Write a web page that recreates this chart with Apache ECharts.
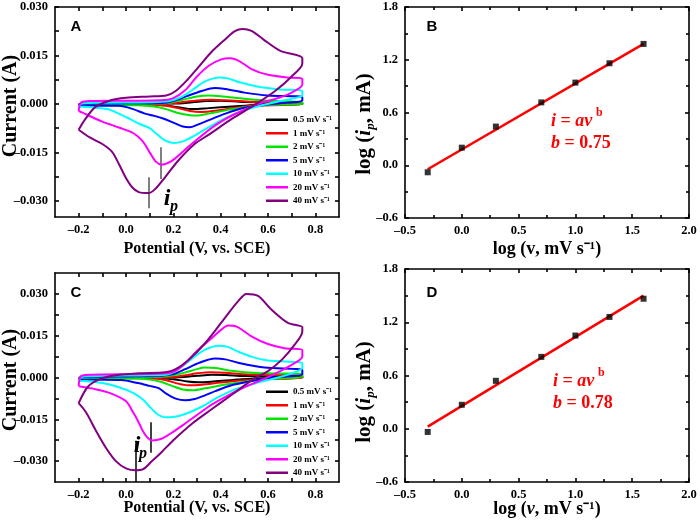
<!DOCTYPE html>
<html><head><meta charset="utf-8">
<script src="https://cdn.jsdelivr.net/npm/echarts@6/dist/echarts.min.js"></script>
<style>html,body{margin:0;padding:0;background:#fff}#c{width:700px;height:520px}</style>
</head><body><div id="c"></div>
<script>
// ---------------- data ----------------
const rateLabels = ['0.5 mV s\u207B\u00B9','1 mV s\u207B\u00B9','2 mV s\u207B\u00B9','5 mV s\u207B\u00B9','10 mV s\u207B\u00B9','20 mV s\u207B\u00B9','40 mV s\u207B\u00B9'];

// CV loops, panel A: [potential V, current mA] (forward then reverse scan)
const cvA_05 = [[-0.2,-0.1],[-0.19,0.0],[0.2,0.1],[0.28,0.5],[0.34,0.9],[0.4,1.0],[0.48,0.7],[0.6,0.3],[0.745,0.2],
  [0.745,-0.1],[0.55,-0.3],[0.45,-0.8],[0.35,-1.3],[0.28,-1.6],[0.22,-1.0],[0.15,-0.3],[0.05,-0.1],[-0.2,-0.1]];
const cvA_1 = [[-0.2,-0.2],[-0.19,0.0],[0.15,0.1],[0.22,0.4],[0.28,0.9],[0.36,1.3],[0.42,1.1],[0.52,0.7],[0.745,0.3],
  [0.745,-0.1],[0.55,-0.5],[0.45,-1.3],[0.38,-2.1],[0.32,-2.5],[0.27,-2.2],[0.22,-1.3],[0.16,-0.5],[0.08,-0.2],[-0.2,-0.2]];
const cvA_2 = [[-0.2,-0.3],[-0.19,0.05],[0.1,0.1],[0.18,0.3],[0.24,1.3],[0.3,2.3],[0.35,2.6],[0.4,2.4],[0.5,1.6],[0.6,1.0],[0.745,0.6],
  [0.745,0.0],[0.6,-0.3],[0.5,-1.0],[0.42,-2.0],[0.35,-3.0],[0.3,-3.6],[0.27,-3.5],[0.22,-2.8],[0.17,-1.6],[0.12,-0.8],[0.05,-0.4],[-0.2,-0.3]];
const cvA_5 = [[-0.2,-0.5],[-0.19,0.1],[0.0,0.2],[0.15,0.3],[0.2,0.9],[0.26,2.5],[0.32,4.0],[0.375,4.9],[0.42,4.6],[0.5,3.5],[0.6,2.6],[0.745,2.1],
  [0.745,1.0],[0.68,0.4],[0.6,-0.2],[0.5,-1.2],[0.42,-3.0],[0.35,-5.0],[0.3,-6.5],[0.27,-7.2],[0.24,-7.0],[0.2,-5.8],[0.16,-4.6],[0.12,-3.7],[0.08,-3.0],[0.03,-1.6],[-0.03,-0.6],[-0.2,-0.5]];
const cvA_10 = [[-0.2,-0.8],[-0.185,0.2],[-0.1,0.4],[0.1,0.5],[0.18,0.8],[0.23,2.0],[0.28,4.3],[0.33,6.8],[0.37,7.9],[0.395,8.2],[0.43,7.9],[0.48,6.7],[0.56,5.3],[0.65,4.5],[0.745,4.1],
  [0.745,2.6],[0.7,1.6],[0.63,0.5],[0.556,-0.8],[0.48,-2.5],[0.41,-4.8],[0.35,-7.2],[0.29,-9.8],[0.24,-11.6],[0.2,-12.1],[0.165,-11.3],[0.13,-9.3],[0.1,-7.5],[0.06,-6.3],[0.02,-4.8],[-0.03,-3.0],[-0.08,-1.6],[-0.15,-1.0],[-0.2,-0.8]];
const cvA_20 = [[-0.2,-2.2],[-0.19,0.4],[-0.15,0.9],[0.0,1.0],[0.15,1.1],[0.2,1.8],[0.25,4.2],[0.3,8.5],[0.35,11.8],[0.4,13.7],[0.44,14.1],[0.48,13.2],[0.53,10.8],[0.6,9.0],[0.68,8.2],[0.745,7.8],
  [0.745,6.0],[0.7,3.5],[0.65,2.0],[0.56,0.0],[0.45,-3.5],[0.38,-6.5],[0.3,-11.0],[0.24,-14.8],[0.19,-17.8],[0.15,-18.8],[0.125,-17.8],[0.1,-15.0],[0.07,-11.5],[0.03,-9.0],[-0.03,-7.3],[-0.1,-5.5],[-0.16,-3.5],[-0.2,-2.2]];
const cvA_40 = [[-0.2,-8.0],[-0.175,-5.0],[-0.13,-1.0],[-0.07,1.0],[0.0,1.9],[0.1,2.3],[0.17,2.6],[0.21,4.0],[0.26,7.5],[0.305,11.3],[0.36,16.0],[0.416,19.8],[0.46,22.5],[0.493,23.2],[0.53,22.6],[0.58,20.0],[0.65,16.5],[0.745,14.2],
  [0.745,12.5],[0.7,8.5],[0.63,4.0],[0.55,0.0],[0.45,-4.5],[0.35,-9.5],[0.29,-12.4],[0.221,-17.5],[0.165,-22.7],[0.124,-26.3],[0.096,-27.6],[0.054,-27.3],[0.026,-25.8],[-0.002,-22.7],[-0.03,-18.6],[-0.058,-14.9],[-0.1,-12.4],[-0.155,-10.3],[-0.2,-8.0]];

// CV loops, panel C
const cvC_05 = [[-0.2,-0.1],[-0.19,0.0],[0.22,0.1],[0.3,0.6],[0.362,1.0],[0.42,0.9],[0.5,0.5],[0.745,0.3],
  [0.745,-0.1],[0.55,-0.4],[0.45,-0.9],[0.36,-1.5],[0.306,-1.7],[0.26,-1.4],[0.2,-0.6],[0.12,-0.2],[-0.2,-0.1]];
const cvC_1 = [[-0.2,-0.2],[-0.19,0.0],[0.2,0.2],[0.26,0.9],[0.3,1.5],[0.36,1.9],[0.42,1.7],[0.5,1.2],[0.745,0.6],
  [0.745,-0.1],[0.6,-0.6],[0.5,-1.0],[0.4,-1.8],[0.32,-2.6],[0.26,-2.8],[0.22,-2.2],[0.17,-1.0],[0.1,-0.3],[-0.2,-0.2]];
const cvC_2 = [[-0.2,-0.4],[-0.19,0.1],[0.15,0.3],[0.2,0.8],[0.25,1.8],[0.3,3.0],[0.33,3.6],[0.38,3.4],[0.446,2.4],[0.55,1.6],[0.745,1.2],
  [0.745,0.2],[0.6,-0.5],[0.5,-1.5],[0.42,-2.5],[0.34,-3.8],[0.28,-4.6],[0.24,-4.3],[0.2,-3.2],[0.15,-1.6],[0.1,-0.7],[0.0,-0.3],[-0.2,-0.4]];
const cvC_5 = [[-0.2,-0.7],[-0.185,0.2],[0.0,0.4],[0.15,0.6],[0.2,1.2],[0.25,3.0],[0.31,5.3],[0.376,6.8],[0.42,6.5],[0.474,5.3],[0.586,3.6],[0.745,2.7],
  [0.745,1.2],[0.65,0.2],[0.586,-0.4],[0.5,-1.8],[0.446,-2.8],[0.38,-4.8],[0.334,-6.4],[0.29,-7.7],[0.25,-8.2],[0.21,-7.6],[0.17,-5.8],[0.138,-3.8],[0.1,-3.0],[0.05,-2.0],[-0.02,-0.9],[-0.2,-0.7]];
const cvC_10 = [[-0.2,-1.2],[-0.185,0.3],[-0.1,0.6],[0.1,0.8],[0.18,1.2],[0.236,3.9],[0.28,6.8],[0.33,9.8],[0.39,11.4],[0.43,11.0],[0.474,9.3],[0.53,7.5],[0.6,6.1],[0.745,5.1],
  [0.745,3.5],[0.7,1.5],[0.62,-0.5],[0.55,-2.0],[0.45,-4.6],[0.38,-7.5],[0.32,-10.5],[0.25,-13.1],[0.2,-14.2],[0.166,-14.3],[0.13,-13.0],[0.1,-10.5],[0.07,-7.8],[0.03,-5.5],[-0.03,-3.5],[-0.1,-2.0],[-0.2,-1.2]];
const cvC_20 = [[-0.2,-3.1],[-0.19,0.5],[-0.15,1.0],[0.05,1.2],[0.17,1.5],[0.21,2.5],[0.25,5.1],[0.3,9.5],[0.362,14.1],[0.4,17.0],[0.432,18.7],[0.47,18.2],[0.53,14.8],[0.6,12.0],[0.67,10.5],[0.745,9.9],
  [0.745,7.5],[0.7,4.5],[0.65,2.2],[0.586,-0.4],[0.5,-3.5],[0.43,-6.5],[0.36,-9.8],[0.306,-13.1],[0.25,-16.5],[0.19,-20.0],[0.15,-22.0],[0.11,-22.6],[0.09,-21.5],[0.07,-19.0],[0.05,-15.5],[0.03,-12.5],[0.0,-8.5],[-0.07,-5.5],[-0.14,-4.0],[-0.2,-3.1]];
const cvC_40 = [[-0.2,-9.2],[-0.162,-3.4],[-0.113,-0.7],[-0.043,0.8],[0.055,1.5],[0.166,1.9],[0.208,2.9],[0.264,6.3],[0.334,12.3],[0.418,21.4],[0.474,27.4],[0.509,30.0],[0.558,29.3],[0.614,24.4],[0.684,19.6],[0.745,18.1],
  [0.745,16.5],[0.71,11.5],[0.66,6.5],[0.6,2.3],[0.54,-0.5],[0.45,-6.0],[0.36,-11.5],[0.28,-16.5],[0.2,-22.5],[0.15,-26.8],[0.11,-30.0],[0.07,-33.0],[0.041,-33.3],[0.0,-32.6],[-0.043,-30.0],[-0.085,-25.2],[-0.127,-19.1],[-0.169,-12.5],[-0.2,-9.2]];

// i_p marker segments: [potential V, current top mA, current bottom mA]
const ipMarksA = [[0.096,-22.7,-32.3],[0.147,-13.4,-23.2]];
const ipMarksC = [[0.041,-22.7,-37.5],[0.106,-16.1,-27.0]];

// log-log panels
const logV = [-0.30, 0.00, 0.30, 0.70, 1.00, 1.30, 1.60];
const logIpB = [-0.08, 0.20, 0.44, 0.715, 0.94, 1.16, 1.38];
const logIpD = [-0.036, 0.27, 0.54, 0.81, 1.05, 1.26, 1.465];
const fitB = [[-0.30, -0.045], [1.60, 1.38]];
const fitD = [[-0.30, 0.024], [1.60, 1.50]];

// axis ticks
const cvXLabels = [-0.2, 0, 0.2, 0.4, 0.6, 0.8];
const cvXTicks = [-0.2,-0.1,0,0.1,0.2,0.3,0.4,0.5,0.6,0.7,0.8];
const cvYLabels = [-0.030, -0.015, 0, 0.015, 0.030];
const cvYTicks = [-0.030,-0.0225,-0.015,-0.0075,0,0.0075,0.015,0.0225,0.030];

// ---------------- styling / building ----------------
const rateColors = ['#000000','#ff0000','#00e600','#0000ff','#00ffff','#ff00ff','#800080'];
const SERIF = "'Liberation Serif','Times New Roman',serif";
const lineBlack = {color:'#000', width:1.6};
const neg = (v, d) => (v < 0 ? '\u2013' : '') + Math.abs(v).toFixed(d);
const tickLabel = {color:'#000', fontFamily:SERIF, fontWeight:'bold', fontSize:12.5};

function makeAxes(g, o) {
  const xs = [], ys = [];
  const xb = {gridIndex:g, type:'value', min:o.xmin, max:o.xmax, position:'bottom',
    axisLine:{show:true, onZero:false, lineStyle:lineBlack},
    axisTick:{show:true, inside:true, length:4, lineStyle:lineBlack},
    axisLabel:Object.assign({margin:6, formatter:v=>neg(v,o.xd)}, tickLabel),
    splitLine:{show:false},
    name:o.xname, nameLocation:'middle', nameGap:o.xgap, nameMoveOverlap:false,
    nameTextStyle:o.xnameStyle};
  const yb = {gridIndex:g, type:'value', min:o.ymin, max:o.ymax, position:'left',
    axisLine:{show:true, onZero:false, lineStyle:lineBlack},
    axisTick:{show:true, inside:true, length:4, lineStyle:lineBlack},
    axisLabel:Object.assign({margin:7, formatter:v=>neg(v,o.yd)}, tickLabel),
    splitLine:{show:false}};
  if (o.xint) { xb.interval = o.xint; xb.minorTick = {show:true, splitNumber:2, length:3, lineStyle:lineBlack}; }
  else { xb.axisTick.customValues = o.xticks; xb.axisLabel.customValues = o.xlabels; }
  if (o.yint) { yb.interval = o.yint; yb.minorTick = {show:true, splitNumber:2, length:3, lineStyle:lineBlack}; }
  else { yb.axisTick.customValues = o.yticks; yb.axisLabel.customValues = o.ylabels; }
  const xt = JSON.parse(JSON.stringify(Object.assign({}, xb, {axisLabel:{show:false}, name:'', nameTextStyle:{}})));
  xt.position = 'top'; xt.gridIndex = g;
  const yr = JSON.parse(JSON.stringify(Object.assign({}, yb, {axisLabel:{show:false}})));
  yr.position = 'right'; yr.gridIndex = g;
  xs.push(xb, xt); ys.push(yb, yr);
  return {xs, ys};
}

const titleStyle = sz => ({color:'#000', fontFamily:SERIF, fontWeight:'bold', fontSize:sz});
const logXName = (italicV) => ({
  rich:{
    n:{fontFamily:SERIF, fontWeight:'bold', fontSize:18, color:'#000', lineHeight:22},
    v:{fontFamily:SERIF, fontWeight:'bold', fontStyle: italicV ? 'italic':'normal', fontSize:18, color:'#000', lineHeight:22}
  }
});

const axA = makeAxes(0, {xmin:-0.3, xmax:0.9, xd:1, xticks:cvXTicks, xlabels:cvXLabels,
  ymin:-0.035, ymax:0.030, yd:3, yticks:cvYTicks, ylabels:cvYLabels,
  xname:'Potential (V, vs. SCE)', xgap:24, xnameStyle:titleStyle(16)});
const axB = makeAxes(1, {xmin:-0.5, xmax:2.0, xint:0.5, xd:1, ymin:-0.6, ymax:1.8, yint:0.6, yd:1,
  xname:'{n|log (}{v|v}{n|, mV s\u207B\u00B9)}', xgap:20, xnameStyle:logXName(false)});
const axC = makeAxes(2, {xmin:-0.3, xmax:0.9, xd:1, xticks:cvXTicks, xlabels:cvXLabels,
  ymin:-0.0375, ymax:0.0375, yd:3, yticks:cvYTicks, ylabels:cvYLabels,
  xname:'Potential (V, vs. SCE)', xgap:18, xnameStyle:titleStyle(16)});
const axD = makeAxes(3, {xmin:-0.5, xmax:2.0, xint:0.5, xd:1, ymin:-0.6, ymax:1.8, yint:0.6, yd:1,
  xname:'{n|log (}{v|v}{n|, mV s\u207B\u00B9)}', xgap:16, xnameStyle:logXName(true)});

const xAxes = [...axA.xs, ...axB.xs, ...axC.xs, ...axD.xs];
const yAxes = [...axA.ys, ...axB.ys, ...axC.ys, ...axD.ys];

function cvSeries(loops, g, marks, markColor) {
  return loops.map((loop, k) => {
    const s = {
      type:'line', name:rateLabels[k], xAxisIndex:2*g, yAxisIndex:2*g,
      data: loop.map(p => [p[0], p[1] / 1000]),
      smooth:0.3, symbol:'none', showSymbol:false,
      lineStyle:{color:rateColors[k], width:2}, itemStyle:{color:rateColors[k]},
      z: 2 + k
    };
    if (k === loops.length - 1) {
      s.markLine = {
        silent:true, symbol:['none','none'], label:{show:false},
        lineStyle:{color:markColor, width:1.5, type:'solid'},
        data: marks.map(m => [{coord:[m[0], m[1]/1000]}, {coord:[m[0], m[2]/1000]}])
      };
    }
    return s;
  });
}

function logSeries(g, ys, fit) {
  return [
    {type:'line', xAxisIndex:2*g, yAxisIndex:2*g, data:fit, symbol:'none',
     lineStyle:{color:'#ff0000', width:2.5}, z:2},
    {type:'scatter', xAxisIndex:2*g, yAxisIndex:2*g, data:logV.map((x,i)=>[x, ys[i]]),
     symbol:'rect', symbolSize:6, itemStyle:{color:'#000'}, z:3}
  ];
}

const series = [
  ...cvSeries([cvA_05,cvA_1,cvA_2,cvA_5,cvA_10,cvA_20,cvA_40], 0, ipMarksA, '#555'),
  ...logSeries(1, logIpB, fitB),
  ...cvSeries([cvC_05,cvC_1,cvC_2,cvC_5,cvC_10,cvC_20,cvC_40], 2, ipMarksC, '#000'),
  ...logSeries(3, logIpD, fitD)
];

const legendBase = {
  orient:'vertical', data:rateLabels, icon:'rect', itemWidth:22, itemHeight:2.5, itemGap:2,
  textStyle:{fontFamily:SERIF, fontWeight:'bold', fontSize:9, color:'#000', lineHeight:11.5},
  selectedMode:false, padding:0
};

const redT = (txt, x, y, style) => ({type:'text', x, y, silent:true,
  style:Object.assign({text:txt, fill:'#ff0000', font:"bold 18px 'Liberation Serif', serif", verticalAlign:'middle', align:'left'}, style||{})});
const eqRich = {
  it:{fontFamily:SERIF, fontWeight:'bold', fontStyle:'italic', fontSize:18, fill:'#ff0000', color:'#ff0000'},
  n:{fontFamily:SERIF, fontWeight:'bold', fontSize:18, fill:'#ff0000', color:'#ff0000'}
};
function eqGraphics(x, y1, y2, bval) {
  return [
    redT('{it|i} {n|=} {it|av}', x, y1, {rich:eqRich}),
    redT('b', x + 45, y1 - 8, {font:"bold 12px 'Liberation Serif', serif"}),
    redT('{it|b} {n|= ' + bval + '}', x, y2, {rich:eqRich})
  ];
}
const blackT = (txt, x, y, font) => ({type:'text', x, y, silent:true,
  style:{text:txt, fill:'#000', font, verticalAlign:'middle', align:'center'}});

const yNameRich = {
  n:{fontFamily:SERIF, fontWeight:'bold', fontSize:21, fill:'#000', lineHeight:24},
  it:{fontFamily:SERIF, fontWeight:'bold', fontStyle:'italic', fontSize:21, fill:'#000', lineHeight:24},
  sub:{fontFamily:SERIF, fontWeight:'bold', fontStyle:'italic', fontSize:13, fill:'#000', lineHeight:24, verticalAlign:'bottom'}
};
const vertT = (txt, x, y, extra) => ({type:'text', x, y, rotation:Math.PI/2, silent:true,
  style:Object.assign({text:txt, fill:'#000', font:"bold 20px 'Liberation Serif', serif", align:'center', verticalAlign:'middle'}, extra||{})});

const option = {
  animation:false,
  backgroundColor:'#fff',
  grid:[
    {left:55, top:7, width:284, height:210, containLabel:false, outerBoundsMode:'none'},
    {left:405, top:7, width:284, height:211, containLabel:false, outerBoundsMode:'none'},
    {left:55, top:273, width:284, height:209, containLabel:false, outerBoundsMode:'none'},
    {left:405, top:269, width:284, height:213, containLabel:false, outerBoundsMode:'none'}
  ],
  xAxis:xAxes, yAxis:yAxes,
  legend:[
    Object.assign({left:266, top:114}, legendBase),
    Object.assign({left:266, top:386}, legendBase)
  ],
  series,
  graphic:[
    vertT('Current (A)', 11, 106),
    vertT('Current (A)', 11, 380),
    vertT('{n|log (}{it|i}{sub|p}{n|, mA)}', 365, 124, {rich:yNameRich}),
    vertT('{n|log (}{it|i}{sub|p}{n|, mA)}', 365, 392, {rich:yNameRich}),
    blackT('A', 76, 27, "bold 15px 'Liberation Sans', sans-serif"),
    blackT('B', 432, 27, "bold 15px 'Liberation Sans', sans-serif"),
    blackT('C', 76, 293, "bold 15px 'Liberation Sans', sans-serif"),
    blackT('D', 432, 293, "bold 15px 'Liberation Sans', sans-serif"),
    blackT('i', 167, 199, "italic bold 24px 'Liberation Serif', serif"),
    blackT('p', 174, 207, "italic bold 16px 'Liberation Serif', serif"),
    blackT('i', 137, 446, "italic bold 24px 'Liberation Serif', serif"),
    blackT('p', 143, 454, "italic bold 16px 'Liberation Serif', serif"),
    ...eqGraphics(551, 121, 143, '0.75'),
    ...eqGraphics(553, 381, 403, '0.78')
  ]
};

const chart = echarts.init(document.getElementById('c'), null, {renderer:'canvas'});
chart.setOption(option);
</script>
</body></html>
